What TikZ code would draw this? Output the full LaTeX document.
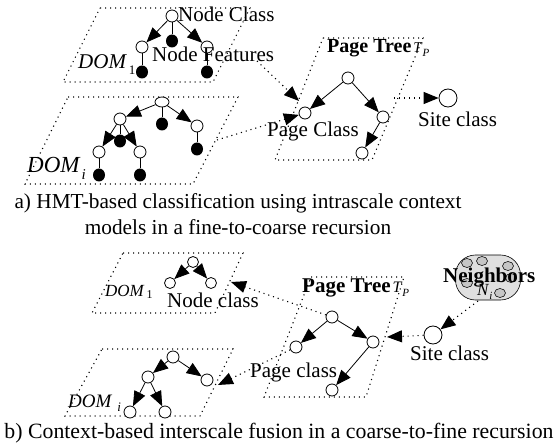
\documentclass[tikz,border=0pt]{standalone}
\usepackage{fontspec}
\setmainfont{Liberation Serif}
\usetikzlibrary{arrows.meta,shapes.geometric}

% font size in points (one point per unit of the drawing)
\newcommand{\pxsize}[1]{\fontsize{#1}{#1}\selectfont}
% lowered index: shift, size, text
\newcommand{\lowidx}[3]{\raisebox{-#1pt}{\pxsize{#2}#3}}

\tikzset{
  frame/.style={line width=1.1pt, dash pattern=on 1.1pt off 3.9pt},
  link/.style={frame, -{Triangle[length=15pt,width=12pt]}},
  edge/.style={line width=0.8pt},
  arr/.style={edge, -{Triangle[length=15pt,width=12pt]}},
  onode/.style={circle, draw, line width=0.8pt, fill=white, inner sep=0pt, minimum size=12pt},
  snode/.style={onode, minimum size=11pt},
  enode/.style={ellipse, draw, line width=0.8pt, fill=white, inner sep=0pt, minimum width=14pt, minimum height=10pt},
  fnode/.style={ellipse, fill=black, inner sep=0pt, minimum width=12pt, minimum height=13pt},
  bignode/.style={onode, minimum size=18pt},
  nb/.style={ellipse, draw, line width=0.6pt, fill=gray!45, inner sep=0pt, minimum width=11pt, minimum height=9pt},
  lbl/.style={anchor=base west, inner sep=0pt, font=\pxsize{21}},
  captxt/.style={anchor=base, inner sep=0pt},
}

\begin{document}
\begin{tikzpicture}[x=1pt, y=-1pt]
\useasboundingbox (0,0) rectangle (558,444);

% ---------------- (a) fine-to-coarse ----------------
% planes
\draw[frame] (100,8) -- (250,8) -- (213,82) -- (63,82) -- cycle;
\draw[frame] (68,97) -- (238,97) -- (193,184) -- (25,184) -- cycle;
\draw[frame] (323,38) -- (423,38) -- (372,160) -- (275,160) -- cycle;

% DOM_1 tree
\node[fnode] (a1M)  at (172,41) {};
\node[fnode] (a1Lf) at (142,72) {};
\node[fnode] (a1Rf) at (207,72) {};
\node[onode] (a1r)  at (172,16) {};
\node[onode] (a1L)  at (142,47) {};
\node[onode] (a1R)  at (207,47) {};
\draw[edge] (a1r) -- (a1M);
\draw[edge] (a1L) -- (a1Lf);
\draw[edge] (a1R) -- (a1Rf);
\draw[arr] (a1r) -- (a1L);
\draw[arr] (a1r) -- (a1R);

% DOM_i tree
\node[fnode] (aiM)   at (162,124) {};
\node[fnode] (aiRf)  at (197,149) {};
\node[fnode] (aiLM)  at (120,141) {};
\node[fnode] (aiLLf) at (99,175) {};
\node[fnode] (aiLRf) at (140,175) {};
\node[enode] (air)   at (162,102) {};
\node[onode] (aiL)   at (120,119) {};
\node[onode] (aiR)   at (197,126) {};
\node[onode] (aiLL)  at (99,152) {};
\node[onode] (aiLR)  at (140,152) {};
\draw[edge] (air) -- (aiM);
\draw[edge] (aiR) -- (aiRf);
\draw[edge] (aiL) -- (aiLM);
\draw[edge] (aiLL) -- (aiLLf);
\draw[edge] (aiLR) -- (aiLRf);
\draw[arr] (air) -- (aiL);
\draw[arr] (air) -- (aiR);
\draw[arr] (aiL) -- (aiLL);
\draw[arr] (aiL) -- (aiLR);

% page tree
\node[onode] (apr)  at (348,78) {};
\node[onode] (apL)  at (305,113) {};
\node[onode] (apR)  at (383,117) {};
\node[onode] (apRL) at (362,153) {};
\draw[arr] (apr) -- (apL);
\draw[arr] (apr) -- (apR);
\draw[arr] (apR) -- (apRL);

% site node
\node[bignode] (asite) at (448,98) {};

% links between scales
\coordinate (a1out) at (257,61);
\coordinate (apin)  at (299,101);
\coordinate (aiout) at (217,140);
\coordinate (apout) at (394,98);
\draw[link] (a1out) -- (apin);
\draw[link] (aiout) -- (apL);
\draw[link] (apout) -- (asite);

% labels
\node[lbl] (tNC) at (178,22) {Node Class};
\node[lbl] (tNF) at (152,62) {Node Features};
\node[lbl] (tD1) at (78,69) {\textit{DOM}\kern2pt\lowidx{6}{13}{1}};
\node[lbl, font=\pxsize{23}] (tDi) at (27,173) {\textit{DOM}\kern1pt\lowidx{7}{15}{\textit{i}}};
\node[lbl] (tPC) at (267,137) {Page Class};
\node[lbl] (tSC) at (418,127) {Site class};
\node[lbl, font=\pxsize{20}] (tPT) at (327,53) {\textbf{Page Tree}\kern2pt{\pxsize{15}\textit{T}\lowidx{4}{11}{\textit{P}}}};

\node[captxt, font=\pxsize{21.3}] (capa1) at (238,208) {a) HMT-based classification using intrascale context};
\node[captxt, font=\pxsize{21.3}] (capa2) at (238,234) {models in a fine-to-coarse recursion};

% ---------------- (b) coarse-to-fine ----------------
\draw[frame] (123,253) -- (243,253) -- (215,313) -- (92,313) -- cycle;
\draw[frame] (102,349) -- (233,349) -- (200,416) -- (65,416) -- cycle;
\draw[frame] (311,277) -- (404,277) -- (366,397) -- (264,397) -- cycle;

% DOM_1 tree
\node[snode] (b1r) at (193,262) {};
\node[snode] (b1L) at (170,283) {};
\node[snode] (b1R) at (211,283) {};
\draw[arr] (b1r) -- (b1L);
\draw[arr] (b1r) -- (b1R);

% DOM_i tree
\node[onode] (bir)  at (173,357) {};
\node[onode] (biL)  at (148,377) {};
\node[onode] (biR)  at (207,380) {};
\node[onode] (biLL) at (130,412) {};
\node[onode] (biLR) at (165,412) {};
\draw[arr] (bir) -- (biL);
\draw[arr] (bir) -- (biR);
\draw[arr] (biL) -- (biLL);
\draw[arr] (biL) -- (biLR);

% page tree
\node[onode] (bpr)  at (332,317) {};
\node[onode] (bpL)  at (296,347) {};
\node[onode] (bpR)  at (373,342) {};
\node[onode] (bpRL) at (332,390) {};
\draw[arr] (bpr) -- (bpL);
\draw[arr] (bpr) -- (bpR);
\draw[arr] (bpR) -- (bpRL);

% site node and neighbourhood
\node[bignode] (bsite) at (433,335) {};
\node[draw, line width=0.6pt, fill=gray!25, rounded corners=20pt,
      minimum width=65pt, minimum height=45pt] (nbr) at (488,277.5) {};
\node[nb] (n1) at (467,263) {};
\node[nb] (n2) at (482,261) {};
\node[nb] (n3) at (508,266) {};
\node[nb] (n4) at (467,283) {};
\node[nb] (n5) at (500,293) {};
\node[nb] (n6) at (511,278) {};

% links between scales
\coordinate (b1in)  at (231,282);
\coordinate (biin)  at (218,385);
\coordinate (bpin)  at (387,337);
\coordinate (nbout) at (478,301);
\draw[link] (bpr) -- (b1in);
\draw[link] (bpL) -- (biin);
\draw[link] (bsite) -- (bpin);
\draw[link] (nbout) -- (bsite);

% labels
\node[lbl, font=\pxsize{17}] (uD1) at (105,296) {\textit{DOM}\kern2pt\lowidx{2}{12}{1}};
\node[lbl] (uNC) at (167,307) {Node class};
\node[lbl, font=\pxsize{19}] (uDi) at (68,407) {\textit{DOM}\kern5pt\lowidx{4}{13}{\textit{i}}};
\node[lbl, font=\pxsize{21}] (uPT) at (302,292) {\textbf{Page Tree}\kern2pt{\pxsize{16}\textit{T}\lowidx{4}{11}{\textit{P}}}};
\node[lbl] (uPC) at (250,377) {Page class};
\node[lbl] (uSC) at (410,360) {Site class};
\node[lbl] (uNb) at (443,283) {\textbf{Neighbors}};
\node[lbl, font=\pxsize{17}] (uNi) at (477,295) {\textit{N}\lowidx{4}{11}{\textit{i}}};

\node[captxt, font=\pxsize{21.8}] (capb) at (279,438) {b) Context-based interscale fusion in a coarse-to-fine recursion};
\end{tikzpicture}
\end{document}
